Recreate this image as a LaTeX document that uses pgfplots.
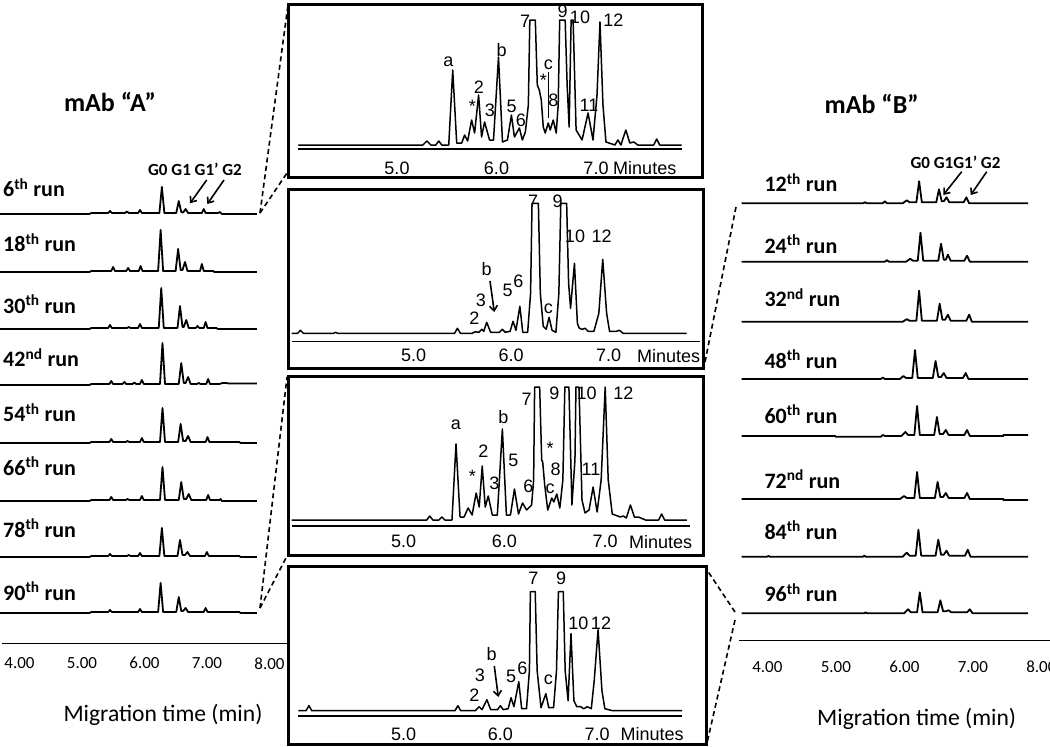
\documentclass[border=0pt]{standalone}
\usepackage{pgfplots}
\pgfplotsset{compat=1.18}
\usepackage{pgfplotstable}
\usepackage{fontspec}
\setmainfont{Carlito}
\newfontfamily\arial{Liberation Sans}
\usetikzlibrary{arrows.meta}

% ---------- mAb A traces (t in min, height in px above baseline)
\pgfplotstableread{
t h
3.69 0
5.12 0
5.15 1
5.42 1
5.45 3
5.48 1
5.69 1
5.72 2.5
5.75 1
5.90 1
5.93 4
5.96 1
6.24 1
6.28 27
6.32 1
6.51 1
6.55 13
6.59 2
6.62 1.5
6.66 5
6.70 1
6.92 1
6.95 5
6.98 1
7.18 1
7.21 2
7.24 0
7.80 0
}\LAa
\pgfplotstableread{
t h
3.69 0
5.12 0
5.15 1
5.47 1
5.50 5
5.53 1
5.71 1
5.74 4
5.77 1
5.91 1
5.94 6
5.97 1
6.22 1
6.26 42
6.30 1
6.50 1
6.54 23
6.58 2
6.61 2
6.65 10
6.69 1
6.89 1
6.92 8
6.95 1
7.10 1
7.12 0
7.80 0
}\LAb
\pgfplotstableread{
t h
3.69 0
5.12 0
5.15 1
5.42 1
5.45 4
5.48 1
5.72 1
5.75 2
5.78 1
5.90 1
5.93 5
5.96 1
6.23 1
6.27 41
6.31 1
6.53 1
6.57 23
6.61 2
6.63 2
6.67 9
6.71 1
6.82 1
6.85 3
6.88 1
6.95 1
6.98 7
7.01 1
7.15 1
7.18 0
7.80 0
}\LAc
\pgfplotstableread{
t h
3.69 0
5.12 0
5.15 1
5.44 1
5.47 4
5.50 1
5.65 1
5.68 3
5.71 1
5.81 1
5.84 2.5
5.87 1
5.93 1
5.96 5
5.99 1
6.25 1
6.29 42
6.33 1
6.55 1
6.59 22
6.63 2
6.66 2
6.70 8
6.74 1
6.84 1
6.87 2
6.90 1
6.99 1
7.02 6
7.05 1
7.20 1
7.25 2
7.30 2
7.36 1.5
7.80 1.5
}\LAd
\pgfplotstableread{
t h
3.69 0
5.12 0
5.15 1
5.44 1
5.47 4
5.50 1
5.70 1
5.73 2
5.76 1
5.93 1
5.96 5
5.99 1
6.25 1
6.29 35
6.33 1
6.54 1
6.58 19
6.62 2
6.66 2
6.70 7
6.74 1
6.98 1
7.01 6
7.04 1
7.52 1
7.54 0
7.80 0
}\LAe
\pgfplotstableread{
t h
3.69 0
5.12 0
5.15 1
5.44 1
5.47 4
5.50 1
5.70 1
5.73 2
5.76 1
5.93 1
5.96 5
5.99 1
6.25 1
6.29 34
6.33 1
6.55 1
6.59 19
6.63 2
6.67 2
6.71 7
6.75 1
6.99 1
7.02 6
7.05 1
7.20 1
7.22 2
7.24 0
7.80 0
}\LAf
\pgfplotstableread{
t h
3.69 0
5.12 0
5.15 1
5.42 1
5.45 3
5.48 1
5.72 1
5.75 2
5.78 1
5.90 1
5.93 4
5.96 1
6.24 1
6.28 29
6.32 1
6.53 1
6.57 17
6.61 2
6.65 2
6.69 5
6.73 1
6.97 1
7.00 5
7.03 1
7.52 1
7.54 0
7.80 0
}\LAg
\pgfplotstableread{
t h
3.69 0
5.12 0
5.15 1
5.42 1
5.45 3
5.48 1
5.90 1
5.93 4
5.96 1
6.22 1
6.26 30
6.30 1
6.51 1
6.55 16
6.59 2
6.62 2
6.66 5
6.70 1
6.95 1
6.98 5
7.01 1
7.52 1
7.54 0
7.80 0
}\LAh

% ---------- mAb B traces
\pgfplotstableread{
t h
3.63 0
5.40 0
5.43 1
5.46 0
5.69 0
5.72 2
5.75 0
5.98 0
6.04 3
6.08 1
6.18 1
6.22 22
6.26 1
6.47 1
6.51 14
6.55 2
6.58 2
6.62 6
6.66 1
6.87 1
6.91 6
6.95 0
7.81 0
}\RBa
\pgfplotstableread{
t h
3.63 0
5.72 0
5.75 1.5
5.78 0
6.03 0
6.09 3
6.13 1
6.20 1
6.24 29
6.28 1
6.50 1
6.54 18
6.58 2
6.61 2
6.64 7
6.68 1
6.88 1
6.92 6
6.96 0
7.81 0
}\RBb
\pgfplotstableread{
t h
3.63 0
5.98 0
6.04 2.5
6.08 1
6.18 1
6.22 31
6.26 1
6.48 1
6.52 18
6.56 2
6.60 2
6.64 7
6.68 1
6.91 1
6.95 7
6.99 0
7.81 0
}\RBc
\pgfplotstableread{
t h
3.63 0
5.66 0
5.69 1.5
5.72 0
5.94 0
5.99 3
6.03 1
6.12 1
6.16 29
6.20 1
6.42 1
6.46 18
6.50 2
6.54 2
6.58 6
6.62 1
6.86 1
6.90 6
6.94 0
7.81 0
}\RBd
\pgfplotstableread{
t h
3.63 0
5.00 0
5.00 -0.7
5.66 -0.7
5.69 1
5.72 0
5.96 0
6.02 4
6.06 1
6.15 1
6.19 30
6.23 1
6.44 1
6.48 19
6.52 2
6.57 2
6.61 6
6.65 1
6.88 1
6.92 6
6.96 0
7.45 0
7.45 1
7.81 1
}\RBe
\pgfplotstableread{
t h
3.63 0
5.94 0
6.00 3
6.04 1
6.15 1
6.19 27
6.23 1
6.45 1
6.49 17
6.53 2
6.57 2
6.61 6
6.65 1
6.88 1
6.92 6
6.96 0
7.45 0
7.45 -1
7.81 -1
}\RBf
\pgfplotstableread{
t h
3.63 0
4.00 0
4.02 0.7
4.04 0
5.40 0
5.42 1
5.44 0
5.98 0
6.04 4
6.08 1
6.17 1
6.21 27
6.25 1
6.46 1
6.50 17
6.54 2
6.58 2
6.62 6
6.66 1
6.89 1
6.93 7
6.97 0
7.81 0
}\RBg
\pgfplotstableread{
t h
3.63 0
5.42 0
5.44 1
5.46 0
6.00 0
6.06 4
6.10 1
6.19 1
6.23 21
6.27 1
6.49 1
6.53 13
6.57 2
6.61 2
6.65 3
6.69 1
6.92 1
6.96 4
7.00 0
7.81 0
}\RBh

% ---------- zoomed electropherograms
\pgfplotstableread{
t h
4.01 0
5.26 0
5.30 4
5.34 0
5.39 0
5.42 4
5.45 0
5.52 0
5.56 75
5.60 2
5.65 2
5.68 10
5.71 4
5.75 25
5.78 12
5.82 50
5.85 8
5.88 23
5.93 5
5.97 5
6.02 88
6.06 3
6.11 5
6.15 30
6.18 8
6.23 17
6.26 5
6.29 13
6.32 40
6.335 125
6.39 125
6.41 60
6.43 55
6.45 45
6.47 18
6.49 12
6.52 22
6.54 15
6.57 25
6.60 12
6.62 40
6.635 125
6.69 125
6.71 60
6.73 18
6.75 125
6.77 125
6.80 15
6.86 5
6.92 32
6.97 5
7.01 50
7.04 123
7.07 40
7.10 3
7.19 0
7.22 5
7.25 0
7.30 15
7.34 2
7.38 3
7.42 0
7.58 0
7.61 6
7.64 0
7.86 0
}\PA
\pgfplotstableread{
t h
3.75 0
3.81 0
3.84 3
3.87 0
4.18 0
4.20 1
4.22 0
5.42 0
5.45 5
5.48 0
5.60 0
5.63 1.5
5.67 1
5.70 4
5.72 2
5.75 11
5.79 1
5.88 1
5.91 4
5.94 1
5.99 2
6.02 12
6.05 3
6.09 27
6.12 1
6.17 1
6.20 40
6.215 130
6.28 130
6.30 40
6.33 7
6.36 4
6.39 16
6.42 3
6.46 1
6.49 40
6.51 130
6.57 130
6.59 50
6.61 25
6.65 70
6.68 10
6.70 5
6.73 4
6.76 5
6.79 2
6.85 2
6.90 20
6.94 74
6.98 20
7.01 2
7.08 2
7.11 3
7.15 0
7.80 0
}\PB
\pgfplotstableread{
t h
3.89 0
5.23 0
5.26 4
5.29 0
5.35 0
5.38 3
5.41 0
5.48 0
5.52 76
5.56 3
5.60 3
5.64 12
5.68 5
5.72 27
5.75 13
5.78 54
5.81 13
5.84 24
5.88 5
5.93 5
5.98 91
6.02 5
6.06 5
6.10 31
6.14 6
6.18 17
6.22 10
6.27 15
6.29 40
6.30 133
6.35 133
6.37 60
6.38 58
6.40 35
6.43 10
6.47 22
6.49 18
6.52 26
6.55 12
6.58 40
6.60 133
6.64 133
6.67 15
6.70 60
6.71 133
6.74 133
6.77 20
6.80 7
6.84 10
6.88 33
6.92 8
6.96 40
7.00 133
7.03 40
7.07 6
7.15 3
7.18 4
7.21 2
7.25 15
7.29 3
7.33 3
7.40 0
7.53 0
7.56 6
7.59 0
7.81 0
}\PC
\pgfplotstableread{
t h
3.91 0
3.99 0
4.02 5
4.05 0
5.53 0
5.56 5
5.59 0
5.74 0
5.78 4
5.81 1
5.86 11
5.90 1
5.97 1
6.00 5
6.03 1
6.08 2
6.11 13
6.14 4
6.19 29
6.22 2
6.27 2
6.30 40
6.31 119
6.36 119
6.38 40
6.42 3
6.47 17
6.50 3
6.55 3
6.58 40
6.60 119
6.65 119
6.67 40
6.70 10
6.73 77
6.76 10
6.79 4
6.83 4
6.86 2
6.90 4
6.94 2
6.97 30
7.01 81
7.05 20
7.08 2
7.16 0
7.88 0
}\PD

\tikzset{trc/.style={black, line width=1.5pt, line join=round},
  trs/.style={black, line width=1.8pt, line join=round},
  pk/.style={font=\arial\fontsize{18}{18}\selectfont, inner sep=0pt},
  run/.style={font=\bfseries\fontsize{22}{22}\selectfont, anchor=base west, inner sep=0pt},
  dsh/.style={line width=1.6pt, dash pattern=on 5pt off 3.5pt},
  arr/.style={line width=1.6pt, -{Straight Barb[length=5pt,width=8pt]}}}
\pgfplotsset{
  trbase/.style={anchor=south west, axis lines=none, clip=false, y=1pt, ymin=0, ymax=40},
  trL/.style={trbase, x=62.5pt, xmin=3.69, xmax=7.80},
  trR/.style={trbase, x=68.5pt, xmin=3.63, xmax=7.81},
  panel/.style={anchor=south west, axis x line=bottom, axis y line=none, clip=false,
    y=1pt, major tick length=0pt, x axis line style={-},
    xticklabel style={font=\arial\fontsize{18}{18}\selectfont, anchor=center}},
  taxis/.style={anchor=south west, axis x line=bottom, axis y line=none, y=1pt, ymin=0, ymax=1,
    major tick length=0pt, x axis line style={-, line width=1pt},
    xtick={4,5,6,7,8}, xticklabels={4.00,5.00,6.00,7.00,8.00},
    xticklabel style={font=\fontsize{17}{17}\selectfont, anchor=center}},
}

\begin{document}
\begin{tikzpicture}
\path[use as bounding box] (0pt,0pt) rectangle (1050pt,-747pt);

% ---- left column traces
\begin{axis}[trL, at={(0pt,-214pt)}]\addplot[trs] table {\LAa};\end{axis}
\begin{axis}[trL, at={(0pt,-272pt)}]\addplot[trs] table {\LAb};\end{axis}
\begin{axis}[trL, at={(0pt,-329pt)}]\addplot[trs] table {\LAc};\end{axis}
\begin{axis}[trL, at={(0pt,-385pt)}]\addplot[trs] table {\LAd};\end{axis}
\begin{axis}[trL, at={(0pt,-443pt)}]\addplot[trs] table {\LAe};\end{axis}
\begin{axis}[trL, at={(0pt,-501pt)}]\addplot[trs] table {\LAf};\end{axis}
\begin{axis}[trL, at={(0pt,-557pt)}]\addplot[trs] table {\LAg};\end{axis}
\begin{axis}[trL, at={(0pt,-613pt)}]\addplot[trs] table {\LAh};\end{axis}
\begin{axis}[taxis, at={(2pt,-643pt)}, x=62.5pt, xmin=3.72, xmax=8.28, xticklabel style={yshift=-20.3pt}]
\addplot[draw=none] coordinates {(4,0)};
\end{axis}

% ---- right column traces
\begin{axis}[trR, at={(741.7pt,-203.3pt)}]\addplot[trs] table {\RBa};\end{axis}
\begin{axis}[trR, at={(741.7pt,-261.7pt)}]\addplot[trs] table {\RBb};\end{axis}
\begin{axis}[trR, at={(741.7pt,-321.7pt)}]\addplot[trs] table {\RBc};\end{axis}
\begin{axis}[trR, at={(741.7pt,-379pt)}]\addplot[trs] table {\RBd};\end{axis}
\begin{axis}[trR, at={(741.7pt,-436pt)}]\addplot[trs] table {\RBe};\end{axis}
\begin{axis}[trR, at={(741.7pt,-499pt)}]\addplot[trs] table {\RBf};\end{axis}
\begin{axis}[trR, at={(741.7pt,-556.7pt)}]\addplot[trs] table {\RBg};\end{axis}
\begin{axis}[trR, at={(741.7pt,-613.3pt)}]\addplot[trs] table {\RBh};\end{axis}
\begin{axis}[taxis, at={(739.3pt,-640pt)}, x=68.5pt, xmin=3.59, xmax=8.13, xticklabel style={yshift=-27pt}]
\addplot[draw=none] coordinates {(4,0)};
\end{axis}

% ---- centre panels
\begin{axis}[panel, at={(297.5pt,-149pt)}, x=99.5pt, xmin=4.0, xmax=7.86, ymin=-4, ymax=125,
  x axis line style={line width=2.5pt}, xtick={5,6,7,7.49}, xticklabels={5.0,6.0,7.0,Minutes},
  xticklabel style={yshift=-19pt}]
\addplot[trc] table {\PA};
\end{axis}
\begin{axis}[panel, at={(291.7pt,-341.7pt)}, x=97.5pt, xmin=3.75, xmax=7.94, ymin=-8.4, ymax=130,
  x axis line style={line width=1.5pt}, xtick={5,6,7,7.615}, xticklabels={5.0,6.0,7.0,Minutes},
  xticklabel style={yshift=-14pt}]
\addplot[trc] table {\PB};
\end{axis}
\begin{axis}[panel, at={(291.7pt,-526pt)}, x=100.8pt, xmin=3.89, xmax=7.84, ymin=-6, ymax=133,
  x axis line style={line width=2pt}, xtick={5,6,7,7.55}, xticklabels={5.0,6.0,7.0,Minutes},
  xticklabel style={yshift=-15.7pt}]
\addplot[trc] table {\PC};
\end{axis}
\begin{axis}[panel, at={(298.3pt,-716pt)}, x=96.7pt, xmin=3.91, xmax=7.88, ymin=-5.3, ymax=119,
  x axis line style={line width=2.5pt}, xtick={5,6,7,7.57}, xticklabels={5.0,6.0,7.0,Minutes},
  xticklabel style={yshift=-18.5pt}]
\addplot[trc] table {\PD};
\end{axis}

\begin{scope}[x=1pt,y=-1pt]
% boxes
\draw[line width=3pt] (288,4) rectangle (702,177);
\draw[line width=3pt] (288,189) rectangle (703,368);
\draw[line width=3pt] (288,376) rectangle (703,555);
\draw[line width=3pt] (288,566) rectangle (706,744.5);
% zoom dashed lines
\draw[dsh] (260,213) -- (288,5);
\draw[dsh] (260,213) -- (287,173);
\draw[dsh] (260,608) -- (287,377);
\draw[dsh] (260,608) -- (287,556);
\draw[dsh] (736,207) -- (704,367);
\draw[dsh] (735,612) -- (707,570);
\draw[dsh] (735,620) -- (707,743);

% titles
\node[font=\bfseries\fontsize{26}{26}\selectfont, anchor=base, inner sep=0pt] at (110,111.7) {mAb “A”};
\node[font=\bfseries\fontsize{26}{26}\selectfont, anchor=base, inner sep=0pt] at (871.7,113.3) {mAb “B”};

% run labels
\node[run] at (3,196.7) {6\textsuperscript{th} run};
\node[run] at (3,251.7) {18\textsuperscript{th} run};
\node[run] at (3,313.3) {30\textsuperscript{th} run};
\node[run] at (3,366.7) {42\textsuperscript{nd} run};
\node[run] at (3,421.7) {54\textsuperscript{th} run};
\node[run] at (3,475) {66\textsuperscript{th} run};
\node[run] at (3,537.3) {78\textsuperscript{th} run};
\node[run] at (3,600) {90\textsuperscript{th} run};
\node[run] at (764.3,191.7) {12\textsuperscript{th} run};
\node[run] at (764.3,253.3) {24\textsuperscript{th} run};
\node[run] at (764.3,306.7) {32\textsuperscript{nd} run};
\node[run] at (764.3,368.3) {48\textsuperscript{th} run};
\node[run] at (764.3,423.3) {60\textsuperscript{th} run};
\node[run] at (764.3,488.3) {72\textsuperscript{nd} run};
\node[run] at (764.3,539.3) {84\textsuperscript{th} run};
\node[run] at (764.3,601.7) {96\textsuperscript{th} run};

% glycoform labels
\node[font=\bfseries\fontsize{17}{17}\selectfont, anchor=base, inner sep=0pt] at (195,175) {G0 G1 G1’ G2};
\draw[arr] (206.7,180) -- (190,203.3);
\draw[arr] (224,180) -- (207.3,204);
\node[font=\bfseries\fontsize{17}{17}\selectfont, anchor=base, inner sep=0pt] at (955.5,168.3) {G0 G1G1’ G2};
\draw[arr] (961.7,171.7) -- (943.3,195);
\draw[arr] (986.7,171.7) -- (970.7,195);

% axis titles
\node[font=\fontsize{23.6}{24}\selectfont, anchor=base, inner sep=0pt] at (163,721.7) {Migration time (min)};
\node[font=\fontsize{23.6}{24}\selectfont, anchor=base, inner sep=0pt] at (916.7,725) {Migration time (min)};

% panel 1 peak labels
\node[pk] at (448.3,61.7) {a};
\node[pk] at (472.3,106.7) {*};
\node[pk] at (479,87.3) {2};
\node[pk] at (490,110) {3};
\node[pk] at (501.7,50) {b};
\node[pk] at (511.7,106.7) {5};
\node[pk] at (521,120.7) {6};
\node[pk] at (525,21.7) {7};
\node[pk] at (562.7,11.7) {9};
\node[pk] at (580,17.3) {10};
\node[pk] at (613.3,20) {12};
\node[pk] at (548.3,65) {c};
\node[pk] at (543.3,80) {*};
\node[pk] at (553.3,100) {8};
\node[pk] at (589,105) {11};
\draw[line width=1pt] (548.3,72) -- (548.3,118);
% panel 2 labels
\node[pk] at (533,201.7) {7};
\node[pk] at (557.7,201.7) {9};
\node[pk] at (575,236.7) {10};
\node[pk] at (601.7,236.7) {12};
\node[pk] at (486.7,269.3) {b};
\draw[arr] (490,281) -- (494.3,312);
\node[pk] at (481,300) {3};
\node[pk] at (507.7,290) {5};
\node[pk] at (518.3,281.7) {6};
\node[pk] at (474.3,318.3) {2};
\node[pk] at (548.3,308.3) {c};
% panel 3 labels
\node[pk] at (456,425) {a};
\node[pk] at (483.3,451) {2};
\node[pk] at (472.3,476.7) {*};
\node[pk] at (494.3,483.3) {3};
\node[pk] at (503.3,416.7) {b};
\node[pk] at (513.3,460.7) {5};
\node[pk] at (528.3,486.7) {6};
\node[pk] at (526.7,399.3) {7};
\node[pk] at (554.3,393.3) {9};
\node[pk] at (586.7,393.3) {10};
\node[pk] at (623.3,393.3) {12};
\node[pk] at (550,448.3) {*};
\node[pk] at (555.7,469.3) {8};
\node[pk] at (550,488.3) {c};
\node[pk] at (591,469.3) {11};
% panel 4 labels
\node[pk] at (533.3,578.3) {7};
\node[pk] at (561,578.3) {9};
\node[pk] at (578.3,623.3) {10};
\node[pk] at (601,623.3) {12};
\node[pk] at (491.7,654.3) {b};
\draw[arr] (494.3,666) -- (498.3,697);
\node[pk] at (480,675) {3};
\node[pk] at (474.3,695) {2};
\node[pk] at (511,676.7) {5};
\node[pk] at (522.3,668.3) {6};
\node[pk] at (548.3,680) {c};
\end{scope}
\end{tikzpicture}
\end{document}
